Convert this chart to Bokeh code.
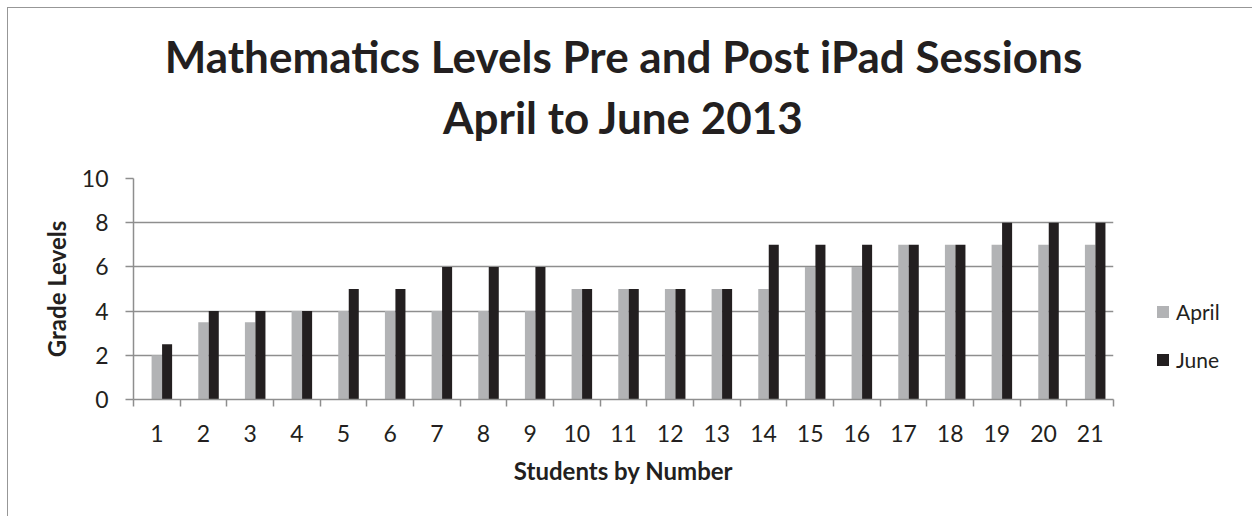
from bokeh.plotting import figure
from bokeh.models import ColumnDataSource, FixedTicker, Title, Legend, LegendItem
from bokeh.layouts import row
from bokeh.transform import dodge
from bokeh.embed import file_html
from bokeh.resources import INLINE

students = list(range(1, 22))
april = [2, 3.5, 3.5, 4, 4, 4, 4, 4, 4, 5, 5, 5, 5, 5, 6, 6, 7, 7, 7, 7, 7]
june = [2.5, 4, 4, 4, 5, 5, 6, 6, 6, 5, 5, 5, 5, 7, 7, 7, 7, 7, 8, 8, 8]
series = ["April", "June"]
colors = ["#b2b3b5", "#231f20"]
y_ticks = [0, 2, 4, 6, 8, 10]
title_lines = ["Mathematics Levels Pre and Post iPad Sessions", "April to June 2013"]

FONT = "Lato"
TXT = "#231f20"
GRID = "#8e8e8e"

src = ColumnDataSource(dict(x=students, april=april, june=june))

p = figure(width=1113, height=508, output_backend="svg", toolbar_location=None,
           x_range=(0.5, 21.5), y_range=(0, 10),
           min_border_left=125, min_border_right=8, min_border_top=170, min_border_bottom=117)
p.outline_line_color = None
p.background_fill_color = "white"
p.border_fill_color = "white"

p.vbar(x=dodge("x", 0.0, range=p.x_range), top="april", width=0.225, source=src,
       fill_color=colors[0], line_color=None)
p.vbar(x=dodge("x", 0.22, range=p.x_range), top="june", width=0.215, source=src,
       fill_color=colors[1], line_color=None)

# titles (two lines)
t2 = Title(text=title_lines[1], align="center", text_font=FONT, text_font_size="44px",
           text_font_style="bold", text_color=TXT, standoff=72)
t1 = Title(text=title_lines[0], align="center", text_font=FONT, text_font_size="44px",
           text_font_style="bold", text_color=TXT, standoff=-59)
p.add_layout(t2, "above")
p.add_layout(t1, "above")

# x axis
xa = p.xaxis[0]
xa.ticker = FixedTicker(ticks=students, minor_ticks=[s - 0.5 for s in students] + [21.5])
xa.major_tick_line_color = None
xa.minor_tick_out = 7
xa.minor_tick_in = 0
xa.minor_tick_line_color = GRID
xa.minor_tick_line_width = 1.5
xa.axis_line_color = GRID
xa.axis_line_width = 1.5
xa.major_label_text_font = FONT
xa.major_label_text_font_size = "23px"
xa.major_label_text_color = TXT
xa.major_label_standoff = 18
xa.axis_label = "Students by Number"
xa.axis_label_text_font = FONT
xa.axis_label_text_font_size = "24px"
xa.axis_label_text_font_style = "bold"
xa.axis_label_text_color = TXT
xa.axis_label_standoff = 11

# y axis
ya = p.yaxis[0]
ya.ticker = FixedTicker(ticks=y_ticks)
ya.minor_tick_line_color = None
ya.major_tick_out = 8
ya.major_tick_in = 0
ya.major_tick_line_color = GRID
ya.major_tick_line_width = 1.5
ya.axis_line_color = GRID
ya.axis_line_width = 1.5
ya.major_label_text_font = FONT
ya.major_label_text_font_size = "23px"
ya.major_label_text_color = TXT
ya.major_label_standoff = 17
ya.axis_label = "Grade Levels"
ya.axis_label_text_font = FONT
ya.axis_label_text_font_size = "24px"
ya.axis_label_text_font_style = "bold"
ya.axis_label_text_color = TXT
ya.axis_label_standoff = 8

p.xgrid.grid_line_color = None
p.ygrid.ticker = FixedTicker(ticks=y_ticks)
p.ygrid.grid_line_color = GRID
p.ygrid.grid_line_width = 1.5

# legend panel (separate small figure to the right; its frame aligns with the main frame)
p2 = figure(width=131, height=508, output_backend="svg", toolbar_location=None,
            x_range=(0.5, 21.5), y_range=(0, 10), min_border=0)
p2.axis.visible = False
p2.grid.visible = False
p2.outline_line_color = None
p2.border_fill_color = "white"
p2.background_fill_color = "white"
items = []
for name, col, vals in zip(series, colors, [april, june]):
    # zero-width proxies: only their legend swatches are visible
    rr = p2.vbar(x=students, top=vals, width=0, fill_color=col, line_color=None)
    items.append(LegendItem(label=name, renderers=[rr]))
legend = Legend(items=items, location=(34, 27), border_line_color=None,
                background_fill_alpha=0,
                label_text_font=FONT, label_text_font_size="21px", label_text_color=TXT,
                glyph_width=15, glyph_height=15, spacing=23, padding=0, margin=0,
                label_standoff=6, label_height=25)
p2.add_layout(legend, "center")

layout = row(p, p2, margin=(7, 0, 0, 7),
             styles={"border-left": "1px solid #979797", "border-top": "1px solid #979797"})

open("out.html", "w").write(file_html(layout, INLINE))
